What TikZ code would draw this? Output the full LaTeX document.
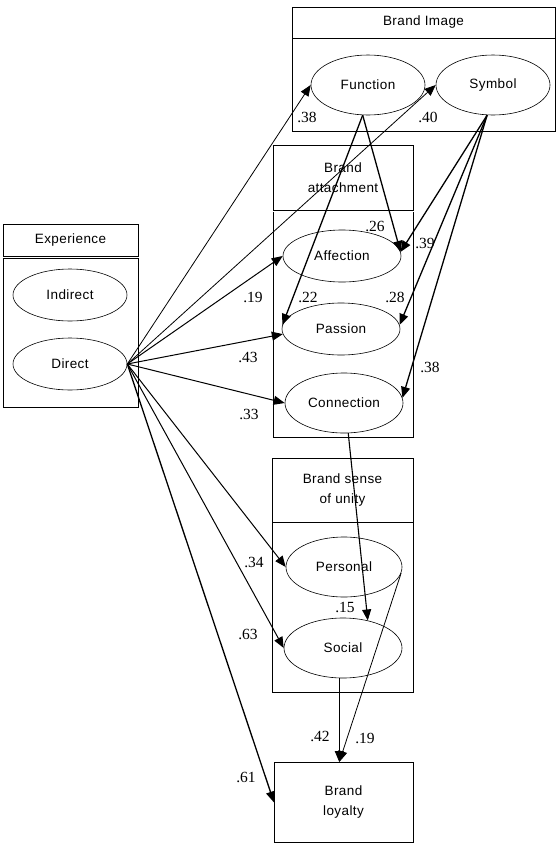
\documentclass[tikz,border=0pt]{standalone}
\usepackage{fontspec}
\setmainfont{Liberation Serif}
\newfontfamily\lblfont[LetterSpace=3]{Liberation Sans}
\usetikzlibrary{shapes.geometric,arrows.meta}
\begin{document}
\begin{tikzpicture}[x=1pt,y=-1pt,
  box/.style={draw,line width=0.9pt,inner sep=0,anchor=north west,rectangle},
  ell/.style={draw,ellipse,line width=0.6pt,inner sep=0,font=\lblfont\fontsize{13.5}{15}\selectfont},
  hdr/.style={inner sep=0,align=center,font=\lblfont\fontsize{13.5}{20}\selectfont},
  num/.style={inner sep=0,font=\fontsize{15.5}{16}\selectfont},
  arr/.style={-{Triangle[length=11pt,width=9pt]},line width=0.8pt},
  tarr/.style={-{Triangle[length=11pt,width=9pt]},line width=1.3pt}]
\useasboundingbox[fill=white] (0,0) rectangle (556,847);

% boxes
\node[box,minimum width=263pt,minimum height=124pt] (bi) at (292,7) {};
\draw[line width=0.9pt] ([yshift=-31pt]bi.north west) -- ([yshift=-31pt]bi.north east);
\node[hdr] (bit) at (423.5,22.5) {Brand Image};

\node[box,minimum width=135pt,minimum height=32pt] (exh) at (3,224) {};
\node[box,minimum width=135pt,minimum height=149pt] (exb) at (3,258) {};
\node[hdr] (ext) at (70.5,240) {Experience};

\node[box,minimum width=140pt,minimum height=65pt] (bah) at (273,145) {};
\node[inner sep=0,minimum width=140pt,minimum height=225pt,anchor=north west] (bab) at (273,212) {};
\draw[line width=0.9pt] (bab.north west) -- (bab.south west) -- (bab.south east) -- (bab.north east);
\node[hdr] (bat) at (343,177.5) {Brand\\attachment};

\node[box,minimum width=141pt,minimum height=64pt] (bsh) at (272,458) {};
\node[box,minimum width=141pt,minimum height=170pt] (bsb) at (272,522) {};
\node[hdr] (bst) at (342.5,490) {Brand sense\\of unity};

\node[box,minimum width=139pt,minimum height=80pt] (loy) at (274,762) {};
\node[hdr] (loyt) at (343.5,802) {Brand\\loyalty};

% ellipses
\node[ell,minimum width=114pt,minimum height=60pt] (func) at (368,85) {Function};
\node[ell,minimum width=114pt,minimum height=60pt] (sym) at (493,85) {Symbol};
\node[ell,minimum width=114pt,minimum height=52pt] (ind) at (70,295) {Indirect};
\node[ell,minimum width=114pt,minimum height=52pt] (dir) at (70,364) {Direct};
\node[ell,minimum width=118pt,minimum height=52pt] (aff) at (342,256) {Affection};
\node[ell,minimum width=118pt,minimum height=52pt] (pas) at (341,329) {Passion};
\node[ell,minimum width=118pt,minimum height=60pt] (con) at (344,403) {Connection};
\node[ell,minimum width=116pt,minimum height=60pt] (per) at (344,567) {Personal};
\node[ell,minimum width=118pt,minimum height=60pt] (soc) at (343,648) {Social};

\coordinate (lt) at (soc.-97 |- loy.north);

% arrows from Direct
\draw[arr] (dir.east) -- (func.west);
\draw[arr] (dir.east) -- (sym.west);
\draw[arr,line width=1pt] (dir.east) -- (aff.west);
\draw[arr,line width=1pt] (dir.east) -- (pas.185);
\draw[arr,line width=1pt] (dir.east) -- (con.west);
\draw[arr,line width=1pt] (dir.east) -- (per.west);
\draw[arr,line width=1pt] (dir.east) -- (soc.west);
\draw[tarr] (dir.east) -- (loy.west);

% from Function / Symbol
\draw[tarr] (func.-100) -- (aff.4);
\draw[tarr] (func.-100) -- (pas.176);
\draw[tarr] (sym.-101) -- (aff.4);
\draw[tarr] (sym.-101) -- (pas.4);
\draw[tarr] (sym.-101) -- (con.5);

% lower
\draw[tarr,line width=1.1pt] (con.-82) -- (soc.48);
\draw[arr] (per.-6) -- (lt);
\draw[arr] (soc.-97) -- (lt);

% numbers
\node[num] (n1) at (307,117) {.38};
\node[num] (n2) at (428,117) {.40};
\node[num] (n3) at (375,226) {.26};
\node[num] (n4) at (425,243) {.39};
\node[num] (n5) at (253,297) {.19};
\node[num] (n6) at (308,297) {.22};
\node[num] (n7) at (395,297) {.28};
\node[num] (n8) at (248,357) {.43};
\node[num] (n9) at (430,367) {.38};
\node[num] (n10) at (249,414) {.33};
\node[num] (n11) at (254,562) {.34};
\node[num] (n12) at (345,607) {.15};
\node[num] (n13) at (248,634) {.63};
\node[num] (n14) at (320,736) {.42};
\node[num] (n15) at (365,738) {.19};
\node[num] (n16) at (246,777) {.61};
\end{tikzpicture}
\end{document}
